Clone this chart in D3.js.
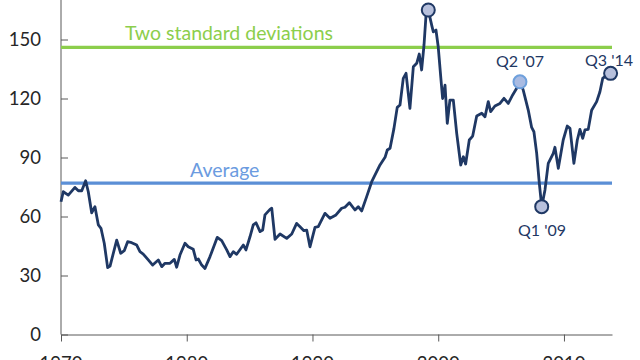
<!DOCTYPE html>
<html>
  <head>
    <meta charset="utf-8" />
    <style>
      body {
        margin: 0;
        background: #fff;
      }
      svg text {
        font-family: Lato, "Open Sans", sans-serif;
      }
    </style>
    <script src="https://d3js.org/d3.v7.min.js"></script>
  </head>
  <body>
    <div id="chart"></div>
    <script type="text/javascript">
      // values (decimal year, index value)
      var years = [
        1970.0, 1970.18, 1970.58, 1971.11, 1971.38, 1971.65, 1971.96, 1972.17,
        1972.44, 1972.7, 1972.97, 1973.18, 1973.44, 1973.71, 1973.9, 1974.43,
        1974.75, 1975.03, 1975.3, 1975.62, 1976.02, 1976.28, 1976.54, 1976.94,
        1977.29, 1977.74, 1978.01, 1978.27, 1978.67, 1979.01, 1979.2, 1979.46,
        1979.86, 1980.12, 1980.52, 1980.74, 1980.92, 1981.19, 1981.45, 1981.85,
        1982.43, 1982.78, 1983.18, 1983.44, 1983.7, 1983.97, 1984.5, 1984.71,
        1985.03, 1985.29, 1985.51, 1985.83, 1986.04, 1986.22, 1986.62, 1986.76,
        1987.02, 1987.42, 1987.95, 1988.35, 1988.74, 1989.01, 1989.32, 1989.54,
        1989.8, 1990.2, 1990.46, 1990.99, 1991.39, 1991.87, 1992.32, 1992.58,
        1992.93, 1993.38, 1993.64, 1993.91, 1994.31, 1994.71, 1995.37, 1995.77,
        1995.95, 1996.17, 1996.48, 1996.74, 1996.96, 1997.22, 1997.44, 1997.75,
        1998.02, 1998.29, 1998.49, 1998.68, 1998.87, 1999.03, 1999.21, 1999.48,
        1999.61, 1999.82, 2000.0, 2000.2, 2000.35, 2000.54, 2000.72, 2000.93,
        2001.2, 2001.47, 2001.79, 2002.0, 2002.18, 2002.47, 2002.74, 2003.06,
        2003.46, 2003.72, 2003.98, 2004.17, 2004.51, 2004.91, 2005.23, 2005.57,
        2005.92, 2006.24, 2006.5, 2006.76, 2007.16, 2007.43, 2007.61, 2007.83,
        2008.04, 2008.23, 2008.49, 2008.75, 2009.15, 2009.28, 2009.55, 2009.94,
        2010.26, 2010.48, 2010.79, 2011.06, 2011.27, 2011.49, 2011.67, 2011.93,
        2012.2, 2012.6, 2012.86, 2013.08, 2013.4, 2013.71
      ];
      var values = [
        67.5, 72.6, 70.9, 74.8, 73.1, 73.1, 78.2, 72.6,
        61.9, 65, 55.7, 54, 46.4, 34, 34.8, 48,
        41.3, 42.6, 47.2, 46.7, 45.5, 42.1, 40.9, 37.9,
        35.3, 37.9, 34.5, 36.2, 36.2, 38.2, 34.2, 40.4,
        46.4, 44.6, 43.3, 37.9, 38.4, 35.3, 33.6, 39.6,
        49.4, 47.7, 43, 39.6, 42.1, 40.8, 45.5, 43,
        49.7, 55.7, 56.8, 52.3, 53.1, 60.8, 63.6, 64.2,
        48.4, 51.1, 48.9, 51.1, 56.5, 54.8, 52.8, 53.1,
        44.6, 54.5, 54.8, 61.6, 59.1, 60.8, 64.2, 64.7,
        67, 63.3, 65, 62.8, 70.1, 77.7, 86.2, 90.1,
        93.8, 94.7, 104.8, 115.5, 116.7, 130.2, 132.8, 115,
        136.1, 137.9, 142.6, 134.5, 147.2, 162.4, 165, 157.3,
        153.9, 154.8, 146.3, 131, 120, 126.8, 107.4, 119.2,
        119.2, 102.3, 86.2, 90.4, 86.7, 98.9, 100.9, 111.1,
        112.5, 110.7, 118.4, 113.3, 116.2, 117.5, 120.1, 117.5,
        121.8, 125.2, 128.5, 124.3, 114.1, 105.3, 103.1, 92.1,
        76.9, 65, 73.5, 87, 92.1, 95.2, 84.5, 98.9,
        106, 104.8, 87, 98.9, 104.3, 99.7, 104, 104.3,
        114, 118.4, 123.4, 130.2, 131.9, 132.8
      ];

      // highlighted points
      var markYears = [1999.21, 2006.5, 2008.23, 2013.71];
      var markValues = [165, 128.5, 65, 132.8];
      var markLabels = ["", "Q2 '07", "Q1 '09", "Q3 '14"];

      var average = 77;
      var twoStd = 146;

      var yTicks = [0, 30, 60, 90, 120, 150];
      var xTicks = [1970, 1980, 1990, 2000, 2010];

      var w = 640;
      var h = 360;

      var x = d3.scaleLinear().domain([1970, 2013.82]).range([61, 612]);
      var y = d3.scaleLinear().domain([0, 150]).range([334.5, 39.5]);

      var svg = d3
        .select("#chart")
        .append("svg")
        .attr("width", w)
        .attr("height", h);

      // y axis, ticks pointing inwards
      var yAxis = svg
        .append("g")
        .attr("transform", "translate(61,0)")
        .call(d3.axisRight(y).tickValues(yTicks).tickSize(7).tickFormat(""));
      yAxis.selectAll("line, path").attr("stroke", "#595959");
      yAxis.select(".domain").attr("d", "M0,0V334.5");

      svg
        .selectAll(".ylab")
        .data(yTicks)
        .enter()
        .append("text")
        .attr("class", "ylab")
        .attr("x", 41)
        .attr("y", function (d) {
          return y(d) + 6.8;
        })
        .attr("text-anchor", "end")
        .attr("font-size", 18.5)
        .attr("fill", "#262626")
        .text(function (d) {
          return d;
        });

      // x axis
      var xAxis = svg
        .append("g")
        .attr("transform", "translate(0,334.5)")
        .call(d3.axisBottom(x).tickValues(xTicks).tickSize(7).tickSizeOuter(0).tickFormat(""));
      xAxis.selectAll("line, path").attr("stroke", "#595959");

      svg
        .selectAll(".xlab")
        .data(xTicks)
        .enter()
        .append("text")
        .attr("class", "xlab")
        .attr("x", function (d) {
          return x(d);
        })
        .attr("y", 370)
        .attr("text-anchor", "middle")
        .attr("font-size", 18.5)
        .attr("fill", "#262626")
        .text(function (d) {
          return d;
        });

      // reference lines
      svg
        .append("line")
        .attr("x1", x(1970))
        .attr("x2", 612)
        .attr("y1", y(twoStd))
        .attr("y2", y(twoStd))
        .attr("stroke", "#8cce4c")
        .attr("stroke-width", 3.2);

      svg
        .append("text")
        .attr("x", 125)
        .attr("y", 40)
        .attr("font-size", 19.5)
        .attr("fill", "#8cce4c")
        .text("Two standard deviations");

      svg
        .append("line")
        .attr("x1", x(1970))
        .attr("x2", 612)
        .attr("y1", y(average))
        .attr("y2", y(average))
        .attr("stroke", "#5b8fd6")
        .attr("stroke-width", 3.2);

      svg
        .append("text")
        .attr("x", 190)
        .attr("y", 176.5)
        .attr("font-size", 19.5)
        .attr("fill", "#6b9be0")
        .text("Average");

      // series
      var line = d3
        .line()
        .x(function (d, i) {
          return x(years[i]);
        })
        .y(function (d) {
          return y(d);
        });

      svg
        .append("path")
        .datum(values)
        .attr("d", line)
        .attr("fill", "none")
        .attr("stroke", "#1f3864")
        .attr("stroke-width", 2.8)
        .attr("stroke-linejoin", "round");

      // markers
      svg
        .selectAll(".mark")
        .data(markValues)
        .enter()
        .append("circle")
        .attr("class", "mark")
        .attr("cx", function (d, i) {
          return x(markYears[i]);
        })
        .attr("cy", function (d) {
          return y(d);
        })
        .attr("r", 6.5)
        .attr("fill", function (d, i) {
          return i == 1 ? "#a9bbe2" : "#b7c0dc";
        })
        .attr("stroke", function (d, i) {
          return i == 1 ? "#6ea0dc" : "#1f3864";
        })
        .attr("stroke-width", 2);

      var labelPos = [null, [520, 66.5], [542, 236], [609, 66]];
      svg
        .selectAll(".mlab")
        .data(markLabels)
        .enter()
        .append("text")
        .attr("class", "mlab")
        .attr("x", function (d, i) {
          return labelPos[i] ? labelPos[i][0] : 0;
        })
        .attr("y", function (d, i) {
          return labelPos[i] ? labelPos[i][1] : 0;
        })
        .attr("text-anchor", "middle")
        .attr("font-size", 16)
        .attr("fill", "#1f3864")
        .text(function (d) {
          return d;
        });
    </script>
  </body>
</html>
